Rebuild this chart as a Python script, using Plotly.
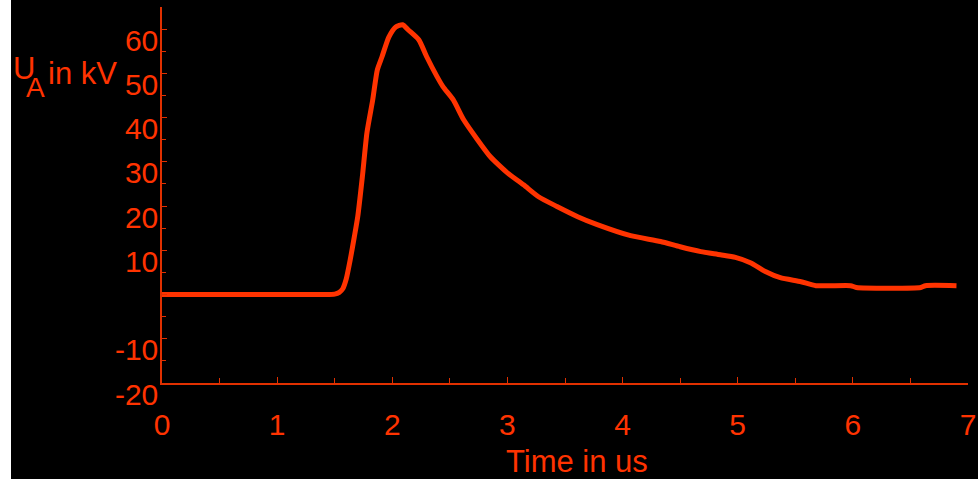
import plotly.graph_objects as go

# Measured impulse voltage U_A (kV) versus time (us)
time_us = [0.0, 0.5, 1.0, 1.4, 1.5, 1.54, 1.57, 1.60, 1.635, 1.67, 1.70, 1.74,
           1.78, 1.83, 1.87, 1.91, 1.97, 2.03, 2.09, 2.14, 2.23, 2.30, 2.39,
           2.44, 2.53, 2.62, 2.74, 2.85, 2.94, 3.0, 3.14, 3.27, 3.43, 3.61,
           3.78, 4.07, 4.33, 4.5, 4.68, 4.85, 4.98, 5.11, 5.24, 5.37, 5.55,
           5.68, 5.98, 6.03, 6.59, 6.63, 6.9]
voltage_kv = [0.0, 0.0, 0.0, 0.0, 0.1, 0.5, 1.3, 3.5, 7.9, 13.0, 17.6, 26.6,
              36.6, 44.0, 50.8, 53.7, 58.2, 60.5, 61.0, 59.8, 57.6, 53.7, 49.2,
              47.0, 44.0, 39.5, 35.0, 31.2, 28.9, 27.5, 24.8, 22.1, 19.9, 17.6,
              15.8, 13.3, 12.0, 10.8, 9.7, 9.0, 8.4, 7.2, 5.2, 3.8, 2.9,
              2.0, 2.0, 1.6, 1.6, 2.0, 2.0]

x_ticks = [0, 1, 2, 3, 4, 5, 6, 7]
x_tick_labels = ["0", "1", "2", "3", "4", "5", "6", "7"]
y_ticks = [-20, -10, 0, 10, 20, 30, 40, 50, 60]
y_tick_labels = ["-20", "-10", "", "10", "20", "30", "40", "50", "60"]

W, H = 978, 479
TRACE = "#ff3300"
AXIS = "#e03000"
TEXT = "#ff3300"
FONT = "Liberation Sans, Arial, sans-serif"


def fx(p):
    """Pixel column -> paper fraction."""
    return p / W


def fy(p):
    """Pixel row (from top) -> paper fraction."""
    return 1 - p / H


fig = go.Figure(
    go.Scatter(
        x=time_us, y=voltage_kv, mode="lines",
        line=dict(color=TRACE, width=5, shape="spline", smoothing=0.6),
        hoverinfo="skip",
    )
)

fig.update_layout(
    width=W, height=H, autosize=False,
    margin=dict(l=0, r=0, t=0, b=0, pad=0),
    paper_bgcolor="black", plot_bgcolor="black",
    showlegend=False,
    font=dict(family=FONT, color=TEXT),
    xaxis=dict(
        automargin=False,
        domain=[fx(162), fx(968)], range=[0, 7],
        showgrid=False, zeroline=False,
        showline=True, linecolor=AXIS, linewidth=1.5,
        tickmode="array", tickvals=x_ticks, ticktext=x_tick_labels,
        ticks="inside", ticklen=6, tickwidth=1.2, tickcolor=AXIS,
        minor=dict(dtick=0.5, tick0=0, ticks="inside", ticklen=5,
                   tickwidth=1.2, tickcolor=AXIS, showgrid=False),
        tickfont=dict(size=30, color=TEXT, family=FONT),
        ticklabelstandoff=14, ticklabeloverflow="allow",
    ),
    yaxis=dict(
        automargin=False,
        domain=[fy(383), fy(7)], range=[-20, 65],
        showgrid=False, zeroline=False,
        showline=True, linecolor=AXIS, linewidth=1.5,
        tickmode="array", tickvals=y_ticks, ticktext=y_tick_labels,
        ticks="inside", ticklen=5, tickwidth=1.2, tickcolor=AXIS,
        minor=dict(dtick=5, tick0=0, ticks="inside", ticklen=4,
                   tickwidth=1.2, tickcolor=AXIS, showgrid=False),
        tickfont=dict(size=30, color=TEXT, family=FONT),
        ticklabelshift=11, ticklabelstandoff=-4, ticklabeloverflow="allow",
    ),
    shapes=[
        # white band along the left edge of the page
        dict(type="rect", xref="paper", yref="paper",
             x0=0, x1=fx(11), y0=0, y1=1,
             fillcolor="white", line=dict(width=0), layer="above"),
    ],
)

annotations = [
    dict(text="Time in us", x=fx(577), y=fy(461), size=31, xanchor="center"),
    dict(text="U", x=fx(11), y=fy(69), size=31, xanchor="left"),
    dict(text="A", x=fx(24), y=fy(87), size=28, xanchor="left"),
    dict(text="in kV", x=fx(46), y=fy(73), size=31, xanchor="left"),
]
for a in annotations:
    fig.add_annotation(
        text=a["text"], x=a["x"], y=a["y"], xref="paper", yref="paper",
        xanchor=a["xanchor"], yanchor="middle", showarrow=False,
        font=dict(size=a["size"], color=TEXT, family=FONT),
    )

fig.write_html("out.html")
